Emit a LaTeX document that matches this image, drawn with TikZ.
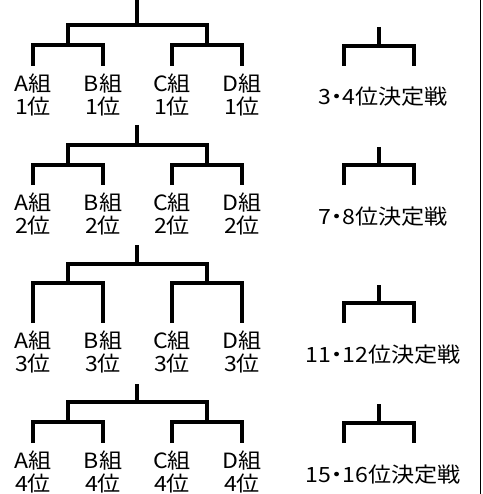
\documentclass[tikz,border=0pt]{standalone}
\usepackage{fontspec}
\usepackage{tikz}
\newfontfamily\jpfont[FakeStretch=1.1]{Noto Sans CJK JP}
\newfontfamily\jpnarrow[FakeStretch=1.1,RawFeature=+palt]{Noto Sans CJK JP}
\tikzset{
	bar/.style={line width=3.3pt},
	team/.style={anchor=north, inner xsep=0pt, inner ysep=8pt, align=center, font=\jpfont\fontsize{21}{23}\selectfont},
	final/.style={inner sep=0pt, font=\jpnarrow\fontsize{21}{23}\selectfont}
}

\begin{document}
\begin{tikzpicture}[x=1pt, y=-1pt]
\useasboundingbox (0,0) rectangle (482,494);
\draw[line width=1.5pt] (480.5,0) -- (480.5,494);
\foreach \s/\t/\b/\m/\l/\ft/\fb/\fl/\fy/\fname in {1/0/25/45/66/27/46/66/97/{3・4}, 2/125/145/165/185/147/165/185/217/{7・8}, 3/245/264/283/323/285/303/323/355/{11・12}, 4/384/402/422/443/404/423/443/475/{15・16}} {
	\coordinate (top\s) at (137,\t);
	\coordinate (root\s) at (137,\b);
	\coordinate (ab\s) at (68,\m);
	\coordinate (cd\s) at (207,\m);
	\node[team] (A\s) at (33,\l) {A組\\\s{}位};
	\node[team] (B\s) at (103,\l) {B組\\\s{}位};
	\node[team] (C\s) at (172,\l) {C組\\\s{}位};
	\node[team] (D\s) at (242,\l) {D組\\\s{}位};
	\draw[bar] (top\s) -- (root\s);
	\draw[bar] (ab\s) |- (root\s) -| (cd\s);
	\draw[bar] (A\s.north) |- (ab\s) -| (B\s.north);
	\draw[bar] (C\s.north) |- (cd\s) -| (D\s.north);
	% placement match
	\coordinate (ftop\s) at (379,\ft);
	\coordinate (froot\s) at (379,\fb);
	\coordinate (fl\s) at (344,\fl);
	\coordinate (fr\s) at (414,\fl);
	\draw[bar] (ftop\s) -- (froot\s);
	\draw[bar] (fl\s) |- (froot\s) -| (fr\s);
	\node[final] (fin\s) at (383,\fy) {\fname 位決定戦};
	};
\end{tikzpicture}
\end{document}
